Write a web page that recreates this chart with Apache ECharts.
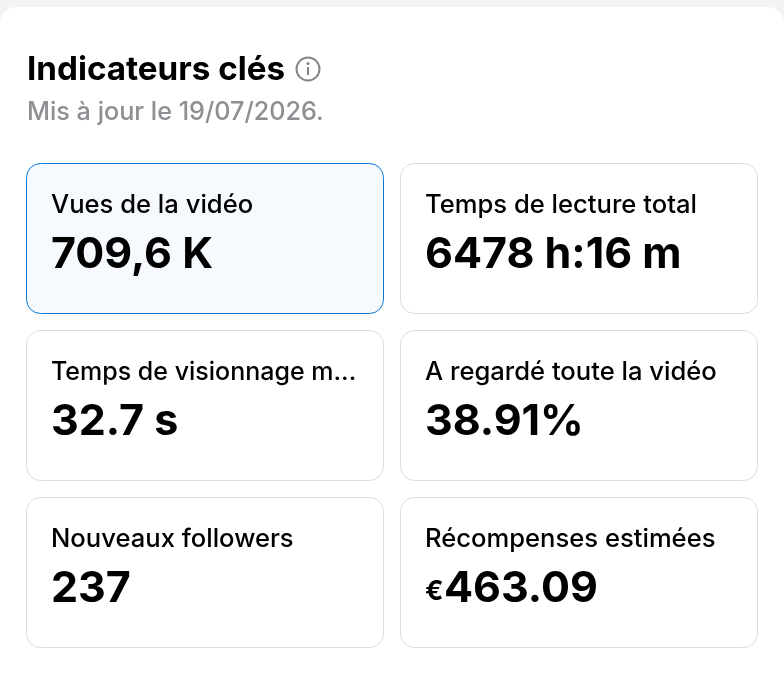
<!DOCTYPE html>
<html>
<head>
<meta charset="utf-8">
<style>html,body{margin:0;padding:0;background:#fff}#main{width:784px;height:674px}</style>
<script src="https://cdn.jsdelivr.net/npm/echarts@6/dist/echarts.min.js"></script>
</head>
<body>
<div id="main"></div>
<script>
var title = 'Indicateurs clés';
var subtitle = 'Mis à jour le 19/07/2026.';
var labels = ['Vues de la vidéo', 'Temps de lecture total', 'Temps de visionnage m...', 'A regardé toute la vidéo', 'Nouveaux followers', 'Récompenses estimées'];
var values = ['709,6 K', '6478 h:16 m', '32.7 s', '38.91%', '237', '463.09'];
var prefixes = ['', '', '', '', '', '€'];

var font = 'Inter, Roboto, "Noto Sans", sans-serif';
var myChart = echarts.init(document.getElementById('main'));
var elements = [];

// grey strip behind the white panel
elements.push({ type: 'rect', shape: { x: 0, y: 0, width: 784, height: 30 }, style: { fill: '#f3f3f4' } });
elements.push({ type: 'rect', shape: { x: 0, y: 7, width: 784, height: 667, r: [16, 16, 0, 0] }, style: { fill: '#fff' } });

elements.push({ type: 'text', style: { x: 27, y: 70, text: title, font: '700 33.2px ' + font, fill: '#000', verticalAlign: 'middle' } });
elements.push({ type: 'circle', shape: { cx: 308, cy: 69, r: 11.5 }, style: { fill: 'none', stroke: '#858589', lineWidth: 2 } });
elements.push({ type: 'circle', shape: { cx: 308, cy: 63.5, r: 1.5 }, style: { fill: '#858589' } });
elements.push({ type: 'rect', shape: { x: 307, y: 67, width: 2, height: 8 }, style: { fill: '#858589' } });
elements.push({ type: 'text', style: { x: 27, y: 112, text: subtitle, font: '500 25.2px ' + font, fill: '#8e8e93', verticalAlign: 'middle' } });

labels.forEach(function (label, i) {
  var col = i % 2, row = Math.floor(i / 2);
  var x = col === 0 ? 26.5 : 400.5;
  var y = 163.5 + row * 167;
  var active = i === 0;
  elements.push({
    type: 'rect',
    shape: { x: x, y: y, width: 357, height: 150, r: 14 },
    style: { fill: active ? '#f6f9fe' : '#fff', stroke: active ? '#0a78d8' : '#dcdcde', lineWidth: 1 }
  });
  // the clipped label sits a touch tighter than the others
  var labelSize = i === 2 ? 25 : 25.6;
  elements.push({ type: 'text', style: { x: x + 24.5, y: y + 41.5, text: label, font: '500 ' + labelSize + 'px ' + font, fill: '#000', verticalAlign: 'middle' } });
  var vx = x + 24.5;
  if (prefixes[i]) {
    elements.push({ type: 'text', style: { x: vx, y: y + 94, text: prefixes[i], font: '700 27px ' + font, fill: '#000', verticalAlign: 'middle' } });
    vx += 19;
  }
  elements.push({ type: 'text', style: { x: vx, y: y + 92, text: values[i], font: '700 43px ' + font, fill: '#000', verticalAlign: 'middle' } });
});

myChart.setOption({
  animation: false,
  backgroundColor: '#fff',
  graphic: { elements: elements }
});
</script>
</body>
</html>
